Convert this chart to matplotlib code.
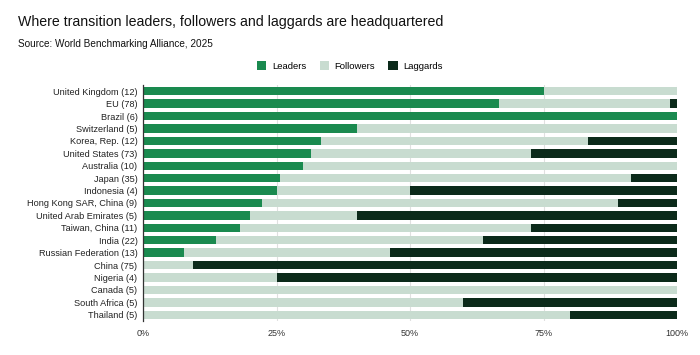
import matplotlib
matplotlib.use("Agg")
import matplotlib.pyplot as plt
import numpy as np
from matplotlib.patches import Patch

plt.rcParams['font.family'] = ['Liberation Sans', 'DejaVu Sans']

categories = ["United Kingdom (12)", "EU (78)", "Brazil (6)", "Switzerland (5)",
              "Korea, Rep. (12)", "United States (73)", "Australia (10)", "Japan (35)",
              "Indonesia (4)", "Hong Kong SAR, China (9)", "United Arab Emirates (5)",
              "Taiwan, China (11)", "India (22)", "Russian Federation (13)", "China (75)",
              "Nigeria (4)", "Canada (5)", "South Africa (5)", "Thailand (5)"]
leaders = [75.0, 66.7, 100.0, 40.0, 33.3, 31.5, 30.0, 25.7, 25.0, 22.2, 20.0,
           18.2, 13.6, 7.7, 0.0, 0.0, 0.0, 0.0, 0.0]
followers = [25.0, 32.0, 0.0, 60.0, 50.0, 41.1, 70.0, 65.7, 25.0, 66.7, 20.0,
             54.5, 50.0, 38.5, 9.3, 25.0, 100.0, 60.0, 80.0]
laggards = [0.0, 1.3, 0.0, 0.0, 16.7, 27.4, 0.0, 8.6, 50.0, 11.1, 60.0,
            27.3, 36.4, 53.8, 90.7, 75.0, 0.0, 40.0, 20.0]
xticks = [0, 25, 50, 75, 100]
xticklabels = ["0%", "25%", "50%", "75%", "100%"]

c_lead = "#1a8a4f"
c_foll = "#c8dcd0"
c_lag = "#0b2a1a"

fig = plt.figure(figsize=(7, 3.55), dpi=100)
ax = fig.add_axes([143/700, 1-321/355, 534/700, (321-85)/355])

y = np.arange(len(categories))
lead = np.array(leaders); foll = np.array(followers); lag = np.array(laggards)
h = 0.68
ax.barh(y, lead, height=h, color=c_lead, zorder=3)
ax.barh(y, foll, left=lead, height=h, color=c_foll, zorder=3)
ax.barh(y, lag, left=lead+foll, height=h, color=c_lag, zorder=3)

ax.set_ylim(len(categories)-0.5, -0.5)
ax.set_xlim(0, 100)
ax.set_yticks(y)
ax.set_yticklabels(categories, fontsize=6.6, color="#222222")
ax.set_xticks(xticks)
ax.set_xticklabels(xticklabels, fontsize=6.5, color="#333333")
ax.tick_params(axis='both', length=0)
ax.tick_params(axis='y', pad=4)
ax.tick_params(axis='x', pad=6)
for s in ["top", "right", "bottom"]:
    ax.spines[s].set_visible(False)
ax.spines["left"].set_color("#333333")
ax.spines["left"].set_linewidth(0.9)
ax.spines["left"].set_zorder(4)
ax.grid(axis='x', color="#e0e0e0", linewidth=0.8, zorder=0)
ax.set_axisbelow(True)

fig.text(18/700, 1-22/355, "Where transition leaders, followers and laggards are headquartered",
         fontsize=10.2, va="center", ha="left", color="#111111")
fig.text(18/700, 1-44/355, "Source: World Benchmarking Alliance, 2025",
         fontsize=7.2, va="center", ha="left", color="#111111")

handles = [Patch(facecolor=c_lead), Patch(facecolor=c_foll), Patch(facecolor=c_lag)]
fig.legend(handles, ["Leaders", "Followers", "Laggards"], loc="center",
           bbox_to_anchor=(350/700, 1-66/355), ncol=3, frameon=False, fontsize=6.8,
           handlelength=1.0, handleheight=1.0, handletextpad=0.6, columnspacing=1.4)

fig.savefig("out.png", dpi=100)
